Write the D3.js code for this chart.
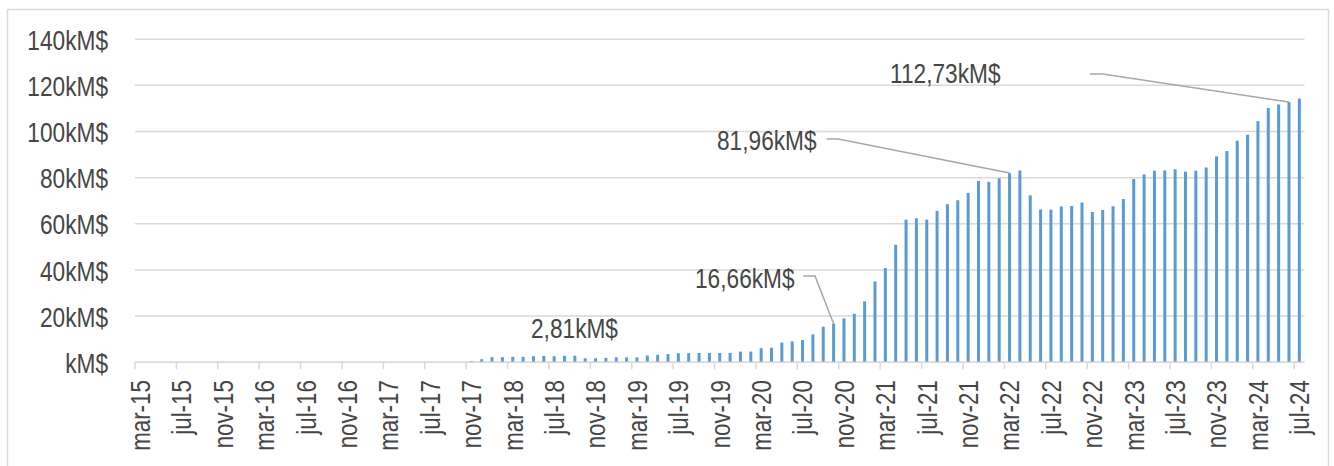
<!DOCTYPE html>
<html>
<head>
<meta charset="utf-8">
<script src="https://cdn.jsdelivr.net/npm/d3@7"></script>
<style>
  html, body { margin: 0; padding: 0; background: #ffffff; }
  svg text { font-family: "Liberation Sans", Arial, sans-serif; fill: #464646; }
</style>
</head>
<body>
<svg id="chart" width="1334" height="466"></svg>
<script>
// Monthly series, mar-15 .. jul-24 (kM$). Nothing recorded before nov-17.
const monthNames = ["jan","feb","mar","apr","may","jun","jul","aug","sep","oct","nov","dec"];
const startYear = 2015, startMonth = 2;   // mar-15
const monthCount = 113;                   // through jul-24

const earlyValues = new Array(32).fill(0); // mar-15 .. oct-17
const values2017 = [0.5, 1.3];                                                       // nov, dec
const values2018 = [2.2, 2.2, 2.3, 2.3, 2.6, 2.75, 2.6, 2.81, 2.78, 1.7, 1.7, 1.9];
const values2019 = [2.1, 2.1, 2.1, 2.9, 3.2, 3.5, 3.9, 3.9, 4.0, 4.0, 4.0, 4.0];
const values2020 = [4.6, 4.6, 6.1, 6.3, 8.5, 9.0, 9.6, 12.1, 15.4, 16.66, 19.0, 21.0];
const values2021 = [26.4, 35.0, 40.8, 50.9, 61.8, 62.4, 61.8, 65.6, 68.5, 70.2, 73.4, 78.5];
const values2022 = [78.2, 79.7, 81.96, 83.1, 72.3, 66.2, 66.1, 67.5, 67.7, 69.2, 65.1, 66.0];
const values2023 = [67.6, 70.7, 79.4, 81.4, 83.0, 83.1, 83.6, 82.6, 83.0, 84.4, 89.2, 91.5];
const values2024 = [96.0, 98.6, 104.5, 110.2, 111.7, 112.73, 114.3];               // jan .. jul

const yTicks = [0, 20, 40, 60, 80, 100, 120, 140];
const labelledMonths = ["aug-18", "oct-20", "mar-22", "jun-24"];

const values = [].concat(earlyValues, values2017, values2018, values2019, values2020,
                         values2021, values2022, values2023, values2024);
const months = d3.range(monthCount).map(i => {
  const m = (startMonth + i) % 12;
  const yr = startYear + Math.floor((startMonth + i) / 12);
  return monthNames[m] + "-" + String(yr).slice(2);
});
const data = months.map((m, i) => ({ month: m, value: values[i] }));
const xTickMonths = months.filter((m, i) => i % 4 === 0);

const svg = d3.select("#chart");
const plotLeft = 135, plotRight = 1304.5, plotTop = 39.2, plotBottom = 362.2;
const textColor = "#464646";

const x = d3.scaleBand().domain(months).range([plotLeft, plotRight]).padding(0);
const y = d3.scaleLinear().domain([0, 140]).range([plotBottom, plotTop]);

const fmtTick = d => (d === 0 ? "" : d) + "kM$";
const fmtValue = v => d3.format(".2f")(v).replace(".", ",") + "kM$";

// narrow the glyphs horizontally, like a condensed face
function condense(sel, k = 0.81) {
  sel.each(function () {
    const w = this.getComputedTextLength();
    this.setAttribute("textLength", w * k);
    this.setAttribute("lengthAdjust", "spacingAndGlyphs");
  });
}

// outer frame
svg.append("rect")
  .attr("x", 7.5).attr("y", 9.5)
  .attr("width", 1321).attr("height", 480)
  .attr("fill", "none").attr("stroke", "#d9d9d9").attr("stroke-width", 1.5);

// horizontal gridlines
svg.append("g").selectAll("line")
  .data(yTicks)
  .join("line")
  .attr("x1", plotLeft).attr("x2", plotRight)
  .attr("y1", d => y(d)).attr("y2", d => y(d))
  .attr("stroke", "#d9d9d9").attr("stroke-width", 1.5);

// y axis labels
const yAxis = svg.append("g")
  .attr("transform", `translate(${plotLeft},0)`)
  .call(d3.axisLeft(y).tickValues(yTicks).tickFormat(fmtTick).tickSize(0).tickPadding(27));
yAxis.select(".domain").remove();
yAxis.selectAll("text")
  .attr("font-size", 28)
  .attr("font-family", "Liberation Sans, Arial, sans-serif")
  .attr("fill", textColor)
  .attr("dy", "0.36em");
condense(yAxis.selectAll("text"));

// bars
const barW = 3;
svg.append("g").selectAll("rect")
  .data(data.filter(d => d.value > 0))
  .join("rect")
  .attr("x", d => x(d.month) + x.bandwidth() / 2 - barW / 2)
  .attr("y", d => y(d.value))
  .attr("width", barW)
  .attr("height", d => y(0) - y(d.value))
  .attr("fill", "#5b9bd5");

// category axis: tick marks at month boundaries, labels centred on months
svg.append("line")
  .attr("x1", plotLeft).attr("x2", plotRight)
  .attr("y1", y(0)).attr("y2", y(0))
  .attr("stroke", "#d9d9d9").attr("stroke-width", 1.5);
svg.append("g").selectAll("line")
  .data(xTickMonths)
  .join("line")
  .attr("x1", d => x(d)).attr("x2", d => x(d))
  .attr("y1", y(0)).attr("y2", y(0) + 7)
  .attr("stroke", "#d9d9d9").attr("stroke-width", 1.5);

const xAxis = svg.append("g")
  .attr("transform", `translate(0,${y(0)})`)
  .call(d3.axisBottom(x).tickValues(xTickMonths).tickSize(0).tickPadding(0));
xAxis.select(".domain").remove();
xAxis.selectAll("text")
  .attr("font-size", 27.5)
  .attr("font-family", "Liberation Sans, Arial, sans-serif")
  .attr("fill", textColor)
  .attr("text-anchor", "end")
  .attr("transform", "rotate(-90)")
  .attr("x", -18)
  .attr("y", 0)
  .attr("dy", "0.36em");
condense(xAxis.selectAll("text"));

// value call-outs
const callouts = [
  { month: labelledMonths[0], tx: 531, ty: 338, leader: null },
  { month: labelledMonths[1], tx: 695, ty: 288, leader: [803.3, 276, 815] },
  { month: labelledMonths[2], tx: 717, ty: 150, leader: [826.7, 139, 838.3] },
  { month: labelledMonths[3], tx: 890, ty: 83,  leader: [1090, 74, 1102.7] }
];
const byMonth = new Map(data.map(d => [d.month, d.value]));

const ann = svg.append("g");
callouts.forEach(c => {
  const v = byMonth.get(c.month);
  if (c.leader) {
    const [sx, sy, kx] = c.leader;
    const ex = x(c.month) + x.bandwidth() / 2;
    ann.append("path")
      .attr("d", d3.line()([[sx, sy], [kx, sy], [ex, y(v)]]))
      .attr("fill", "none").attr("stroke", "#a6a6a6").attr("stroke-width", 1.5);
  }
  const t = ann.append("text")
    .attr("x", c.tx).attr("y", c.ty)
    .attr("font-size", 28)
    .attr("fill", textColor)
    .text(fmtValue(v));
  condense(t);
});
</script>
</body>
</html>
